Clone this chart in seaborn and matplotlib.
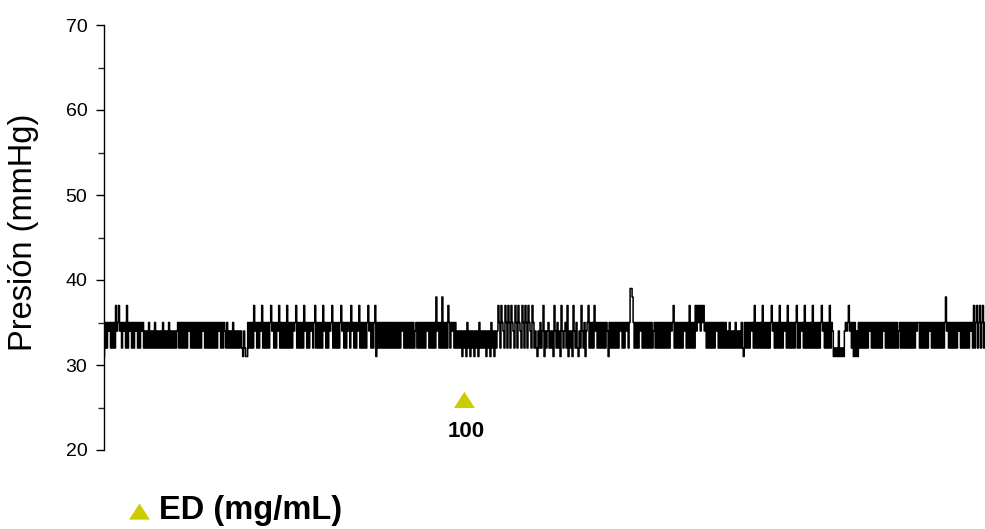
import matplotlib
matplotlib.use("Agg")
import matplotlib.pyplot as plt
from matplotlib.ticker import MultipleLocator
import pandas as pd
import seaborn as sns

# Pressure levels (mmHg) used by the digitised recording; one code per sample
LEVEL_MMHG = {"1": 31, "2": 32, "4": 34, "5": 35, "7": 37, "8": 38, "9": 39}

# Recorded trace, one code per sample, split into consecutive stretches
TRACE_SECTIONS = [
    "1252545252" "5274574525" "4527254525" "25452525452",
    "4242524242" "5242424252" "4242524242" "424",
    "5252525252" "5452525252" "5252545252" "5252525252" "5452525",
    "4252424252",
    "424242421421",
    "1525252745" "2525472525" "2525745252" "5472525252" "7252525457"
    "2525252745" "2525452572" "5252527452" "5254572525" "2525745252"
    "5452745252" "5472525252" "5745252571" "525",
    "252525252525252",
    "5252525452" "5252525252" "4525252525" "2545252525" "2845252825"
    "2527525452" "52",
    "4242" "4142" "4152" "4142" "4142" "4152" "4242" "4142" "4152" "4142" "4",
    "752" "7542" "752" "752" "7542" "752" "7542" "752" "752" "7542" "752",
    "4214252471" "4245242417" "4252417424" "5271424174" "2521427425" "1",
    "4572525274" "5252525252" "5415252525" "252545252",
    "54525998",
    "5252525452" "5252525252" "4525252525" "2525252545" "7252525252"
    "5452527252" "52",
    "7475747574",
    "5252525252" "5452525252" "52",
    "4252424252" "4242521",
    "5252525452" "7252525272" "5252525745" "2525272525" "4527252525"
    "2572525452" "7252525272" "5252525745" "25252725",
    "4121214121214",
    "5457452515141",
    "5252525252" "5452525252" "5252545252" "5252525252" "4525252525"
    "2525252545" "5252525252" "5452525252" "5252525845" "2525252525"
    "4525252525" "2545272572" "5725725",
]

# Dose administration marker
DOSE_SAMPLE = [360]
DOSE_MARK_MMHG = [25.9]
DOSE_LABEL_MMHG = [22.2]
DOSE_LABELS = ["100"]
DOSE_TITLE = "ED (mg/mL)"

Y_TICKS = [20, 30, 40, 50, 60, 70]
Y_LABEL = "Presión (mmHg)"

MARK_COLOR = "#cccc00"
W, H = 985, 529

codes = "".join(TRACE_SECTIONS)
trace = pd.DataFrame({
    "sample": range(len(codes)),
    "pressure": [LEVEL_MMHG[c] for c in codes],
})
dose = pd.DataFrame({"sample": DOSE_SAMPLE, "pressure": DOSE_MARK_MMHG})

sns.set_theme(style="ticks")
plt.rcParams["font.family"] = ["Liberation Sans", "DejaVu Sans"]

fig = plt.figure(figsize=(W / 100, H / 100), dpi=100)
ax = fig.add_axes([104 / W, (H - 450) / H, 881 / W, 425 / H])

# Sampled signal drawn as held levels, so each change is a vertical stroke
sns.lineplot(data=trace, x="sample", y="pressure", ax=ax, color="black",
             linewidth=1.1, estimator=None, sort=False, drawstyle="steps-mid")

# Wide, slightly flattened triangle marker
tri = [(-1, -0.78), (1, -0.78), (0, 0.78), (-1, -0.78)]
sns.scatterplot(data=dose, x="sample", y="pressure", ax=ax, marker=tri,
                s=15 ** 2, color=MARK_COLOR, edgecolor="none", linewidth=0,
                clip_on=False, zorder=5, legend=False)
for xs, ys, lab in zip(DOSE_SAMPLE, DOSE_LABEL_MMHG, DOSE_LABELS):
    ax.text(xs + 2, ys, lab, ha="center", va="center", fontsize=16,
            fontweight="bold", color="black")

ax.set_xlim(0, len(codes) - 1)
ax.set_ylim(Y_TICKS[0], Y_TICKS[-1])
ax.set_yticks(Y_TICKS)
ax.yaxis.set_minor_locator(MultipleLocator(5))
ax.tick_params(axis="y", which="major", length=6, width=1, pad=6,
               labelsize=14, colors="black", direction="out")
ax.tick_params(axis="y", which="minor", length=4, width=1, direction="out")
ax.set_xticks([])
ax.set_xlabel("")
ax.set_ylabel("")
for side in ("top", "right", "bottom"):
    ax.spines[side].set_visible(False)
ax.spines["left"].set_linewidth(1)
ax.spines["left"].set_color("black")
ax.set_facecolor("white")

fig.text(24 / W, 1 - 232 / H, Y_LABEL, rotation=90, fontsize=23.5,
         ha="center", va="center", color="black")

# Key for the dose marker below the plot
ax.plot([138.5 / W], [1 - 511 / H], marker=tri, markersize=15,
        color=MARK_COLOR, markeredgewidth=0, linestyle="none",
        transform=fig.transFigure, clip_on=False)
fig.text(159 / W, 1 - 510 / H, DOSE_TITLE, fontsize=23.5, fontweight="bold",
         ha="left", va="center", color="black")

fig.savefig("out.png", dpi=100, facecolor="white")
